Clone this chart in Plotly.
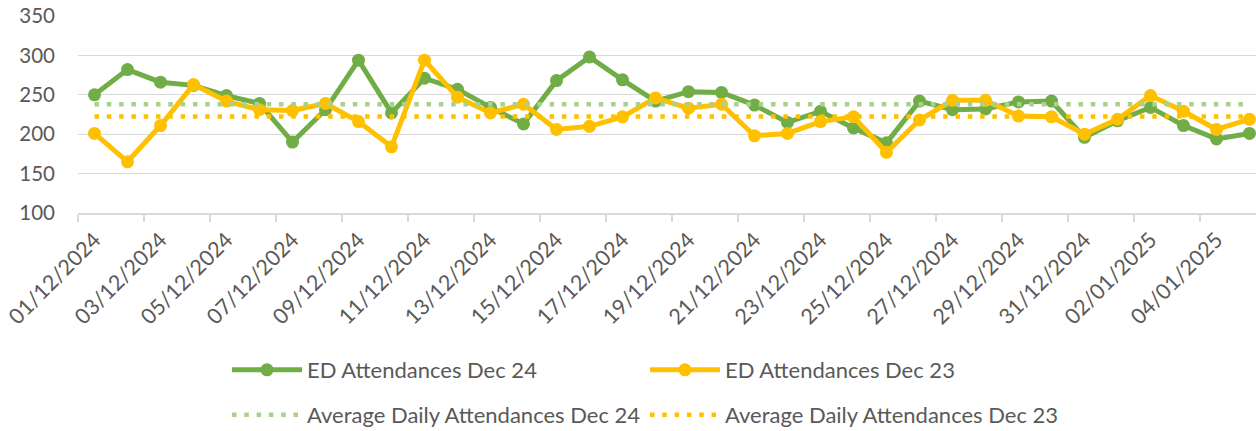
import plotly.graph_objects as go

# ---- data ----
dates = [
    "2024-12-01", "2024-12-02", "2024-12-03", "2024-12-04", "2024-12-05", "2024-12-06",
    "2024-12-07", "2024-12-08", "2024-12-09", "2024-12-10", "2024-12-11", "2024-12-12",
    "2024-12-13", "2024-12-14", "2024-12-15", "2024-12-16", "2024-12-17", "2024-12-18",
    "2024-12-19", "2024-12-20", "2024-12-21", "2024-12-22", "2024-12-23", "2024-12-24",
    "2024-12-25", "2024-12-26", "2024-12-27", "2024-12-28", "2024-12-29", "2024-12-30",
    "2024-12-31", "2025-01-01", "2025-01-02", "2025-01-03", "2025-01-04", "2025-01-05",
]
ed_dec24 = [250, 282, 266, 262, 249, 239, 190, 231, 294, 227, 271, 257,
            234, 213, 268, 298, 269, 242, 254, 253, 237, 215, 229, 208,
            189, 242, 231, 232, 241, 242, 196, 217, 234, 211, 194, 201]
ed_dec23 = [201, 165, 211, 263, 242, 231, 230, 239, 216, 184, 294, 247,
            227, 238, 206, 210, 222, 246, 233, 238, 198, 201, 216, 222,
            177, 218, 243, 243, 223, 222, 200, 219, 249, 229, 206, 219]
avg_dec24_value = 238
avg_dec23_value = 222.5
avg_dec24 = [avg_dec24_value] * len(dates)
avg_dec23 = [avg_dec23_value] * len(dates)

names = ["ED Attendances Dec 24", "ED Attendances Dec 23",
         "Average Daily Attendances Dec 24", "Average Daily Attendances Dec 23"]

GREEN = "#70AD47"
YELLOW = "#FFC000"
LIGHT_GREEN = "#A9D18E"
TEXT = "#595959"
GRID = "#D9D9D9"
FONT = "Lato"

W, H = 1256, 431

fig = go.Figure()
fig.add_trace(go.Scatter(x=dates, y=ed_dec24, name=names[0], mode="lines+markers",
                         line=dict(color=GREEN, width=5), marker=dict(color=GREEN, size=13),
                         legend="legend"))
fig.add_trace(go.Scatter(x=dates, y=ed_dec23, name=names[1], mode="lines+markers",
                         line=dict(color=YELLOW, width=5), marker=dict(color=YELLOW, size=13),
                         legend="legend"))
fig.add_trace(go.Scatter(x=dates, y=avg_dec24, name=names[2], mode="lines",
                         line=dict(color=LIGHT_GREEN, width=4.5, dash="4.5px,7.8px"),
                         legend="legend2"))
fig.add_trace(go.Scatter(x=dates, y=avg_dec23, name=names[3], mode="lines",
                         line=dict(color=YELLOW, width=4.5, dash="4.5px,7.8px"),
                         legend="legend2"))

DAY = 86400000
legend_common = dict(orientation="h", xref="container", yref="container",
                     xanchor="left", yanchor="middle", x=227 / W,
                     itemwidth=70, entrywidth=333, entrywidthmode="pixels",
                     font=dict(family=FONT, size=22, color=TEXT),
                     bgcolor="rgba(0,0,0,0)", borderwidth=0)

fig.update_layout(
    width=W, height=H,
    margin=dict(l=78, r=0, t=16, b=218, autoexpand=False),
    paper_bgcolor="white", plot_bgcolor="white",
    font=dict(family=FONT, size=22, color=TEXT),
    showlegend=True,
    legend=dict(legend_common, y=1 - 370 / H),
    legend2=dict(legend_common, y=1 - 415 / H),
    xaxis=dict(
        type="date",
        range=["2024-11-30 12:00", "2025-01-05 04:44"],
        tickmode="linear", tick0="2024-12-01", dtick=2 * DAY,
        tickformat="%d/%m/%Y", tickangle=-45,
        tickfont=dict(family=FONT, size=21.5, color=TEXT),
        ticks="", showgrid=False, zeroline=False,
        showline=True, linecolor=GRID, linewidth=1.5,
        ticklabelstandoff=4, ticklabeloverflow="allow",
        minor=dict(ticks="outside", ticklen=7, tickwidth=1.5, tickcolor=GRID,
                   tick0="2024-11-30 12:00", dtick=2 * DAY, showgrid=False),
        automargin=False, fixedrange=True,
    ),
    yaxis=dict(
        range=[100, 350], tickmode="linear", tick0=100, dtick=50,
        tickfont=dict(family=FONT, size=20.5, color=TEXT),
        showgrid=True, gridcolor=GRID, gridwidth=1.3,
        zeroline=False, showline=False, ticks="",
        ticklabelstandoff=22, ticklabeloverflow="allow",
        automargin=False, fixedrange=True,
    ),
)

# remove the browser's default 8px body margin so the figure fills the window
fig.write_html("out.html", config={"displayModeBar": False},
               post_script="document.body.style.margin='0';")
